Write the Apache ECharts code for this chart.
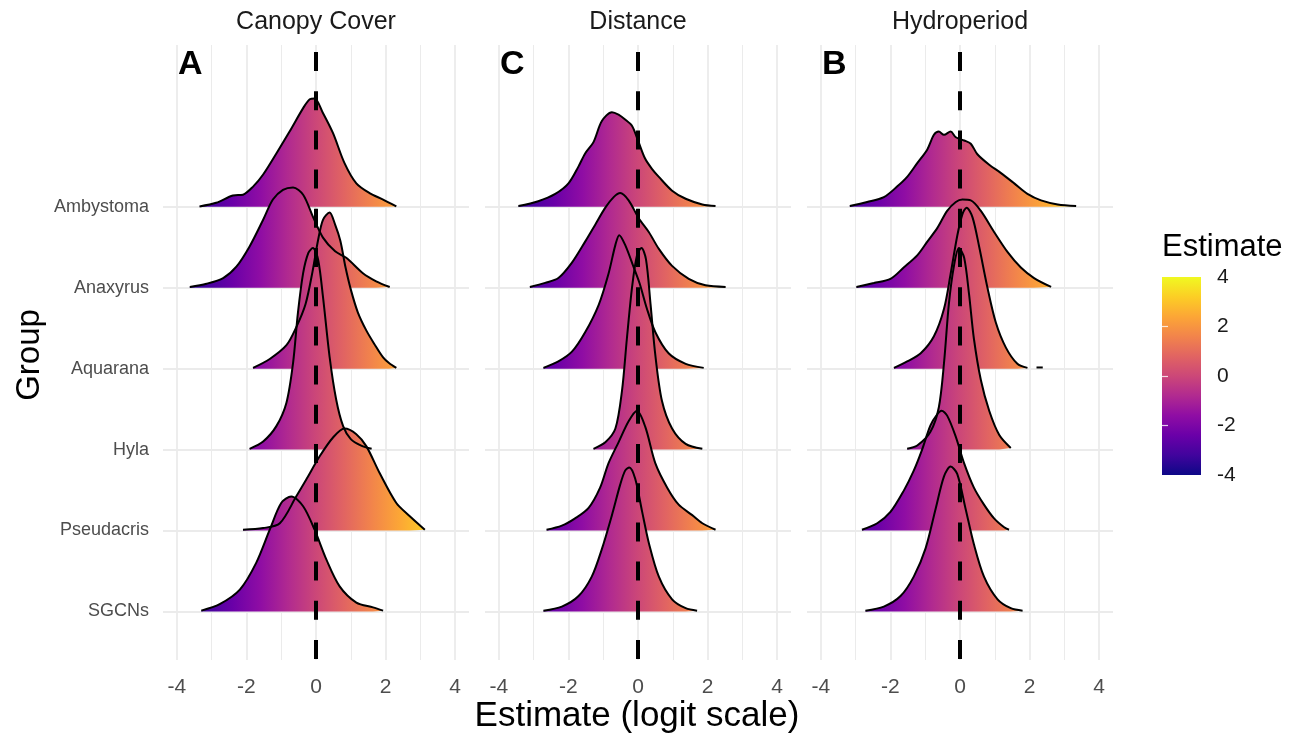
<!DOCTYPE html>
<html><head><meta charset="utf-8">
<script src="https://cdn.jsdelivr.net/npm/echarts@6/dist/echarts.min.js"></script>
<style>html,body{margin:0;padding:0;background:#fff}#c{width:1303px;height:742px}</style>
</head><body><div id="c"></div>
<script>
// ---------- data ----------
const groups = ['SGCNs', 'Pseudacris', 'Hyla', 'Aquarana', 'Anaxyrus', 'Ambystoma']; // bottom -> top
const panels = ['Canopy Cover', 'Distance', 'Hydroperiod'];
const panelLetters = ['A', 'C', 'B'];
const xTickLabels = [-4, -2, 0, 2, 4];
const xGridValues = [-4, -3, -2, -1, 0, 1, 2, 3, 4];
const legendTicks = [-4, -2, 0, 2, 4];

// density ridges: [estimate, scaled height]
const canopy_Ambystoma = [[-3.35,0.005],[-2.87,0.05],[-2.39,0.14],[-2.10,0.15],[-1.81,0.25],[-1.52,0.40],[-1.14,0.66],[-0.76,0.93],[-0.37,1.22],[-0.18,1.33],[-0.04,1.34],[0.20,1.16],[0.49,0.91],[0.82,0.54],[1.16,0.29],[1.54,0.17],[1.93,0.09],[2.31,0.005]];
const canopy_Anaxyrus = [[-3.63,0.01],[-3.15,0.05],[-2.67,0.12],[-2.29,0.26],[-1.91,0.51],[-1.52,0.84],[-1.24,1.09],[-0.95,1.21],[-0.66,1.24],[-0.37,1.15],[-0.09,0.88],[0.20,0.62],[0.55,0.45],[0.87,0.37],[1.35,0.18],[1.73,0.08],[2.12,0.01]];
const canopy_Aquarana = [[-1.81,0.01],[-1.33,0.12],[-0.85,0.29],[-0.57,0.51],[-0.30,0.80],[-0.10,1.20],[0.06,1.59],[0.20,1.84],[0.39,1.93],[0.55,1.78],[0.70,1.58],[0.85,1.25],[1.00,0.98],[1.20,0.70],[1.45,0.47],[1.70,0.29],[1.93,0.14],[2.10,0.07],[2.31,0.01]];
const canopy_Hyla = [[-1.91,0.01],[-1.52,0.10],[-1.14,0.29],[-0.85,0.58],[-0.66,1.07],[-0.52,1.69],[-0.37,2.18],[-0.22,2.43],[-0.09,2.49],[0.06,2.35],[0.20,1.89],[0.39,1.15],[0.58,0.62],[0.78,0.29],[1.00,0.13],[1.30,0.05],[1.60,0.01]];
const canopy_Pseudacris = [[-2.10,0.01],[-1.52,0.03],[-1.04,0.09],[-0.57,0.42],[-0.28,0.63],[0.11,0.92],[0.49,1.15],[0.82,1.26],[1.16,1.19],[1.45,1.04],[1.83,0.71],[2.31,0.34],[2.69,0.18],[3.13,0.01]];
const canopy_SGCNs = [[-3.30,0.01],[-2.77,0.09],[-2.19,0.27],[-1.72,0.60],[-1.33,1.01],[-1.00,1.34],[-0.71,1.42],[-0.37,1.30],[-0.04,1.01],[0.30,0.64],[0.68,0.31],[1.16,0.11],[1.64,0.05],[1.93,0.01]];

const distance_Ambystoma = [[-3.44,0.01],[-2.87,0.07],[-2.38,0.16],[-2.00,0.29],[-1.71,0.50],[-1.52,0.66],[-1.28,0.80],[-1.04,1.06],[-0.75,1.17],[-0.56,1.14],[-0.37,1.08],[-0.17,1.00],[0.00,0.82],[0.20,0.60],[0.40,0.47],[0.60,0.37],[0.98,0.20],[1.37,0.10],[1.85,0.03],[2.23,0.01]];
const distance_Anaxyrus = [[-3.11,0.01],[-2.67,0.06],[-2.29,0.12],[-1.90,0.31],[-1.52,0.57],[-1.23,0.78],[-0.94,0.99],[-0.70,1.12],[-0.51,1.17],[-0.27,1.08],[0.02,0.86],[0.31,0.69],[0.60,0.48],[0.98,0.27],[1.46,0.11],[1.94,0.03],[2.52,0.01]];
const distance_Aquarana = [[-2.72,0.01],[-2.29,0.09],[-1.90,0.21],[-1.52,0.45],[-1.13,0.79],[-0.85,1.17],[-0.65,1.53],[-0.54,1.65],[-0.37,1.53],[-0.13,1.26],[0.05,1.05],[0.25,0.75],[0.50,0.45],[0.88,0.19],[1.37,0.06],[1.89,0.01]];
const distance_Hyla = [[-1.28,0.01],[-0.94,0.09],[-0.65,0.26],[-0.46,0.73],[-0.32,1.37],[-0.17,2.01],[-0.03,2.40],[0.10,2.49],[0.23,2.35],[0.36,1.80],[0.50,1.16],[0.69,0.60],[0.98,0.26],[1.37,0.07],[1.85,0.01]];
const distance_Pseudacris = [[-2.63,0.01],[-2.19,0.06],[-1.81,0.15],[-1.42,0.28],[-1.09,0.53],[-0.85,0.83],[-0.56,1.09],[-0.27,1.35],[-0.03,1.48],[0.21,1.28],[0.50,0.83],[0.84,0.53],[1.17,0.32],[1.56,0.19],[1.85,0.09],[2.23,0.01]];
const distance_SGCNs = [[-2.72,0.01],[-2.19,0.06],[-1.71,0.19],[-1.33,0.43],[-1.04,0.77],[-0.75,1.19],[-0.51,1.57],[-0.37,1.74],[-0.25,1.78],[-0.08,1.64],[0.12,1.23],[0.31,0.85],[0.60,0.43],[0.98,0.15],[1.37,0.04],[1.70,0.01]];

const hydro_Ambystoma = [[-3.17,0.01],[-2.67,0.06],[-2.19,0.12],[-1.81,0.25],[-1.52,0.37],[-1.23,0.54],[-0.94,0.71],[-0.75,0.89],[-0.61,0.93],[-0.46,0.89],[-0.27,0.93],[-0.12,0.86],[0.12,0.82],[0.31,0.78],[0.50,0.65],[0.84,0.52],[1.17,0.42],[1.56,0.29],[1.94,0.16],[2.33,0.08],[2.81,0.03],[3.34,0.01]];
const hydro_Anaxyrus = [[-2.98,0.01],[-2.48,0.06],[-2.00,0.11],[-1.62,0.25],[-1.23,0.40],[-0.94,0.57],[-0.65,0.74],[-0.37,0.95],[-0.12,1.06],[0.07,1.09],[0.31,1.08],[0.60,0.95],[0.98,0.69],[1.37,0.44],[1.75,0.25],[2.13,0.12],[2.62,0.01]];
const hydro_Aquarana = [[-1.90,0.01],[-1.52,0.09],[-1.13,0.19],[-0.75,0.40],[-0.46,0.74],[-0.27,1.17],[-0.08,1.64],[0.07,1.91],[0.19,1.99],[0.36,1.87],[0.55,1.51],[0.79,1.00],[1.03,0.57],[1.32,0.26],[1.65,0.06],[1.94,0.01]];
const hydro_Aquarana_tail = [[2.20,0.015],[2.38,0.015]];
const hydro_Hyla = [[-1.52,0.01],[-1.23,0.05],[-0.85,0.22],[-0.61,0.52],[-0.46,1.07],[-0.32,1.80],[-0.17,2.28],[-0.03,2.49],[0.12,2.37],[0.26,1.92],[0.40,1.37],[0.60,0.86],[0.84,0.48],[1.13,0.18],[1.46,0.02]];
const hydro_Pseudacris = [[-2.82,0.01],[-2.38,0.09],[-2.00,0.23],[-1.62,0.49],[-1.33,0.74],[-1.09,1.00],[-0.85,1.30],[-0.65,1.44],[-0.53,1.48],[-0.37,1.42],[-0.13,1.17],[0.12,0.83],[0.40,0.53],[0.69,0.32],[0.98,0.15],[1.27,0.04],[1.41,0.01]];
const hydro_SGCNs = [[-2.72,0.01],[-2.19,0.06],[-1.71,0.19],[-1.33,0.43],[-0.99,0.78],[-0.70,1.27],[-0.46,1.67],[-0.27,1.79],[-0.08,1.70],[0.16,1.27],[0.40,0.83],[0.69,0.43],[1.08,0.15],[1.46,0.04],[1.80,0.01]];

const ridgeData = [
  {Ambystoma: canopy_Ambystoma, Anaxyrus: canopy_Anaxyrus, Aquarana: canopy_Aquarana, Hyla: canopy_Hyla, Pseudacris: canopy_Pseudacris, SGCNs: canopy_SGCNs},
  {Ambystoma: distance_Ambystoma, Anaxyrus: distance_Anaxyrus, Aquarana: distance_Aquarana, Hyla: distance_Hyla, Pseudacris: distance_Pseudacris, SGCNs: distance_SGCNs},
  {Ambystoma: hydro_Ambystoma, Anaxyrus: hydro_Anaxyrus, Aquarana: hydro_Aquarana, Hyla: hydro_Hyla, Pseudacris: hydro_Pseudacris, SGCNs: hydro_SGCNs}
];
const extraTails = [[], [], [{group: 'Aquarana', pts: hydro_Aquarana_tail}]];

// ---------- style / layout ----------
const FONT = 'Liberation Sans, Arial, Helvetica, sans-serif';
const plasma = ['#0D0887','#41049D','#6A00A8','#8F0DA4','#B12A90','#CC4778','#E16462','#F2844B','#FCA636','#FCCE25','#F0F921'];
const plasmaStops = plasma.map((c, i) => ({offset: i / (plasma.length - 1), color: c}));
const panelLeft = [163, 485, 807];
const panelTop = 45, panelW = 306, panelH = 615;
const yMin = -0.6, yMax = 7;
const xMin = -4.4, xMax = 4.4;

const chart = echarts.init(document.getElementById('c'), null, {renderer: 'canvas'});

function buildOption(gradients) {
  const grid = [], xAxis = [], yAxis = [], series = [], graphic = [];
  panels.forEach((name, i) => {
    grid.push({left: panelLeft[i], top: panelTop, width: panelW, height: panelH, containLabel: false});
    xAxis.push({
      gridIndex: i, type: 'value', min: xMin, max: xMax,
      axisLine: {show: false}, axisTick: {show: false}, splitLine: {show: false},
      axisLabel: {customValues: xTickLabels, fontSize: 21, color: '#4d4d4d', margin: 17, fontFamily: FONT}
    });
    yAxis.push({
      gridIndex: i, type: 'value', min: yMin, max: yMax,
      axisLine: {show: false}, splitLine: {show: false},
      axisTick: i === 0 ? {show: true, customValues: groups.map((g, k) => k), length: 4, lineStyle: {color: '#dddddd'}} : {show: false},
      axisLabel: i === 0 ? {customValues: groups.map((g, k) => k), formatter: v => groups[Math.round(v)], fontSize: 18, color: '#4d4d4d', margin: 14, fontFamily: FONT} : {show: false}
    });
    // grid lines (kept underneath everything else)
    series.push({
      type: 'line', xAxisIndex: i, yAxisIndex: i, data: [], silent: true, animation: false, z: 0,
      markLine: {
        silent: true, symbol: ['none', 'none'], label: {show: false}, animation: false, z: 0,
        data: xGridValues.map(v => ({xAxis: v, lineStyle: {color: '#ebebeb', width: (v % 2 === 0) ? 1.8 : 1.0, type: 'solid'}}))
          .concat(groups.map((g, k) => ({yAxis: k, lineStyle: {color: '#ebebeb', width: 1.8, type: 'solid'}})))
      }
    });
    // ridges, top group first so lower ridges overlap upper ones
    for (let k = groups.length - 1; k >= 0; k--) {
      const g = groups[k];
      const pts = ridgeData[i][g];
      series.push({
        type: 'line', xAxisIndex: i, yAxisIndex: i, name: name + ' ' + g, z: 2,
        data: pts.map(p => [p[0], k + p[1]]),
        smooth: 0.3, symbol: 'none', silent: true, animation: false,
        lineStyle: {color: '#000', width: 2},
        areaStyle: {origin: k, opacity: 1, color: gradients ? gradients[i] : '#CC4778'}
      });
      extraTails[i].filter(t => t.group === g).forEach(t => {
        series.push({
          type: 'line', xAxisIndex: i, yAxisIndex: i, data: t.pts.map(p => [p[0], k + p[1]]), z: 2,
          symbol: 'none', silent: true, animation: false, lineStyle: {color: '#000', width: 2}
        });
      });
    }
    // dashed zero line
    series.push({
      type: 'line', xAxisIndex: i, yAxisIndex: i, data: [[0, yMax], [0, yMin]], z: 3,
      symbol: 'none', silent: true, animation: false,
      lineStyle: {color: '#000', width: 4, type: [19, 20.2], dashOffset: 32.2, cap: 'butt'}
    });
    // strip title & panel letter
    graphic.push({type: 'text', x: panelLeft[i] + panelW / 2, y: 22, silent: true,
      style: {text: name, fontSize: 25, fontFamily: FONT, fill: '#1a1a1a', align: 'center', verticalAlign: 'middle'}});
    graphic.push({type: 'text', x: panelLeft[i] + 15, y: 65, silent: true,
      style: {text: panelLetters[i], fontSize: 34, fontWeight: 'bold', fontFamily: FONT, fill: '#000', align: 'left', verticalAlign: 'middle'}});
  });

  // colour bar legend
  grid.push({left: 1162, top: 277, width: 39, height: 198, containLabel: false});
  xAxis.push({gridIndex: 3, type: 'value', min: 0, max: 1, show: false});
  yAxis.push({gridIndex: 3, type: 'value', position: 'right', min: -4, max: 4, interval: 2, z: 5,
    axisLine: {show: false}, splitLine: {show: false},
    axisTick: {show: true, inside: true, length: 6, customValues: [-2, 0, 2], lineStyle: {color: 'rgba(255,255,255,0.8)', width: 1.2}},
    axisLabel: {customValues: legendTicks, fontSize: 21, color: '#1a1a1a', margin: 16, fontFamily: FONT}});
  yAxis.push({gridIndex: 3, type: 'value', position: 'left', min: -4, max: 4, interval: 2, z: 5,
    axisLine: {show: false}, splitLine: {show: false}, axisLabel: {show: false},
    axisTick: {show: true, inside: true, length: 6, customValues: [-2, 0, 2], lineStyle: {color: 'rgba(255,255,255,0.8)', width: 1.2}}});
  series.push({
    type: 'custom', xAxisIndex: 3, yAxisIndex: 3, data: [[0]], silent: true, animation: false, z: 1,
    renderItem: (params, api) => {
      const a = api.coord([0, legendTicks[legendTicks.length - 1]]);
      const b = api.coord([1, legendTicks[0]]);
      return {type: 'rect', shape: {x: a[0], y: a[1], width: b[0] - a[0], height: b[1] - a[1]},
        style: {fill: new echarts.graphic.LinearGradient(0, 1, 0, 0, plasmaStops)}};
    }
  });

  graphic.push({type: 'text', x: 1162, y: 247, silent: true,
    style: {text: 'Estimate', fontSize: 31, fontFamily: FONT, fill: '#000', align: 'left', verticalAlign: 'middle'}});
  graphic.push({type: 'text', x: 637, y: 716, silent: true,
    style: {text: 'Estimate (logit scale)', fontSize: 35, fontFamily: FONT, fill: '#000', align: 'center', verticalAlign: 'middle'}});
  graphic.push({type: 'text', x: 30, y: 355, rotation: Math.PI / 2, silent: true,
    style: {text: 'Group', fontSize: 33, fontFamily: FONT, fill: '#000', align: 'center', verticalAlign: 'middle'}});

  return {backgroundColor: '#fff', animation: false, grid, xAxis, yAxis, series, graphic};
}

chart.setOption(buildOption(null));
const gradients = panels.map((n, i) => {
  const x0 = chart.convertToPixel({gridIndex: i}, [xTickLabels[0], 0])[0];
  const x1 = chart.convertToPixel({gridIndex: i}, [xTickLabels[xTickLabels.length - 1], 0])[0];
  return new echarts.graphic.LinearGradient(x0, 0, x1, 0, plasmaStops, true);
});
chart.setOption(buildOption(gradients), true);
</script>
</body></html>
